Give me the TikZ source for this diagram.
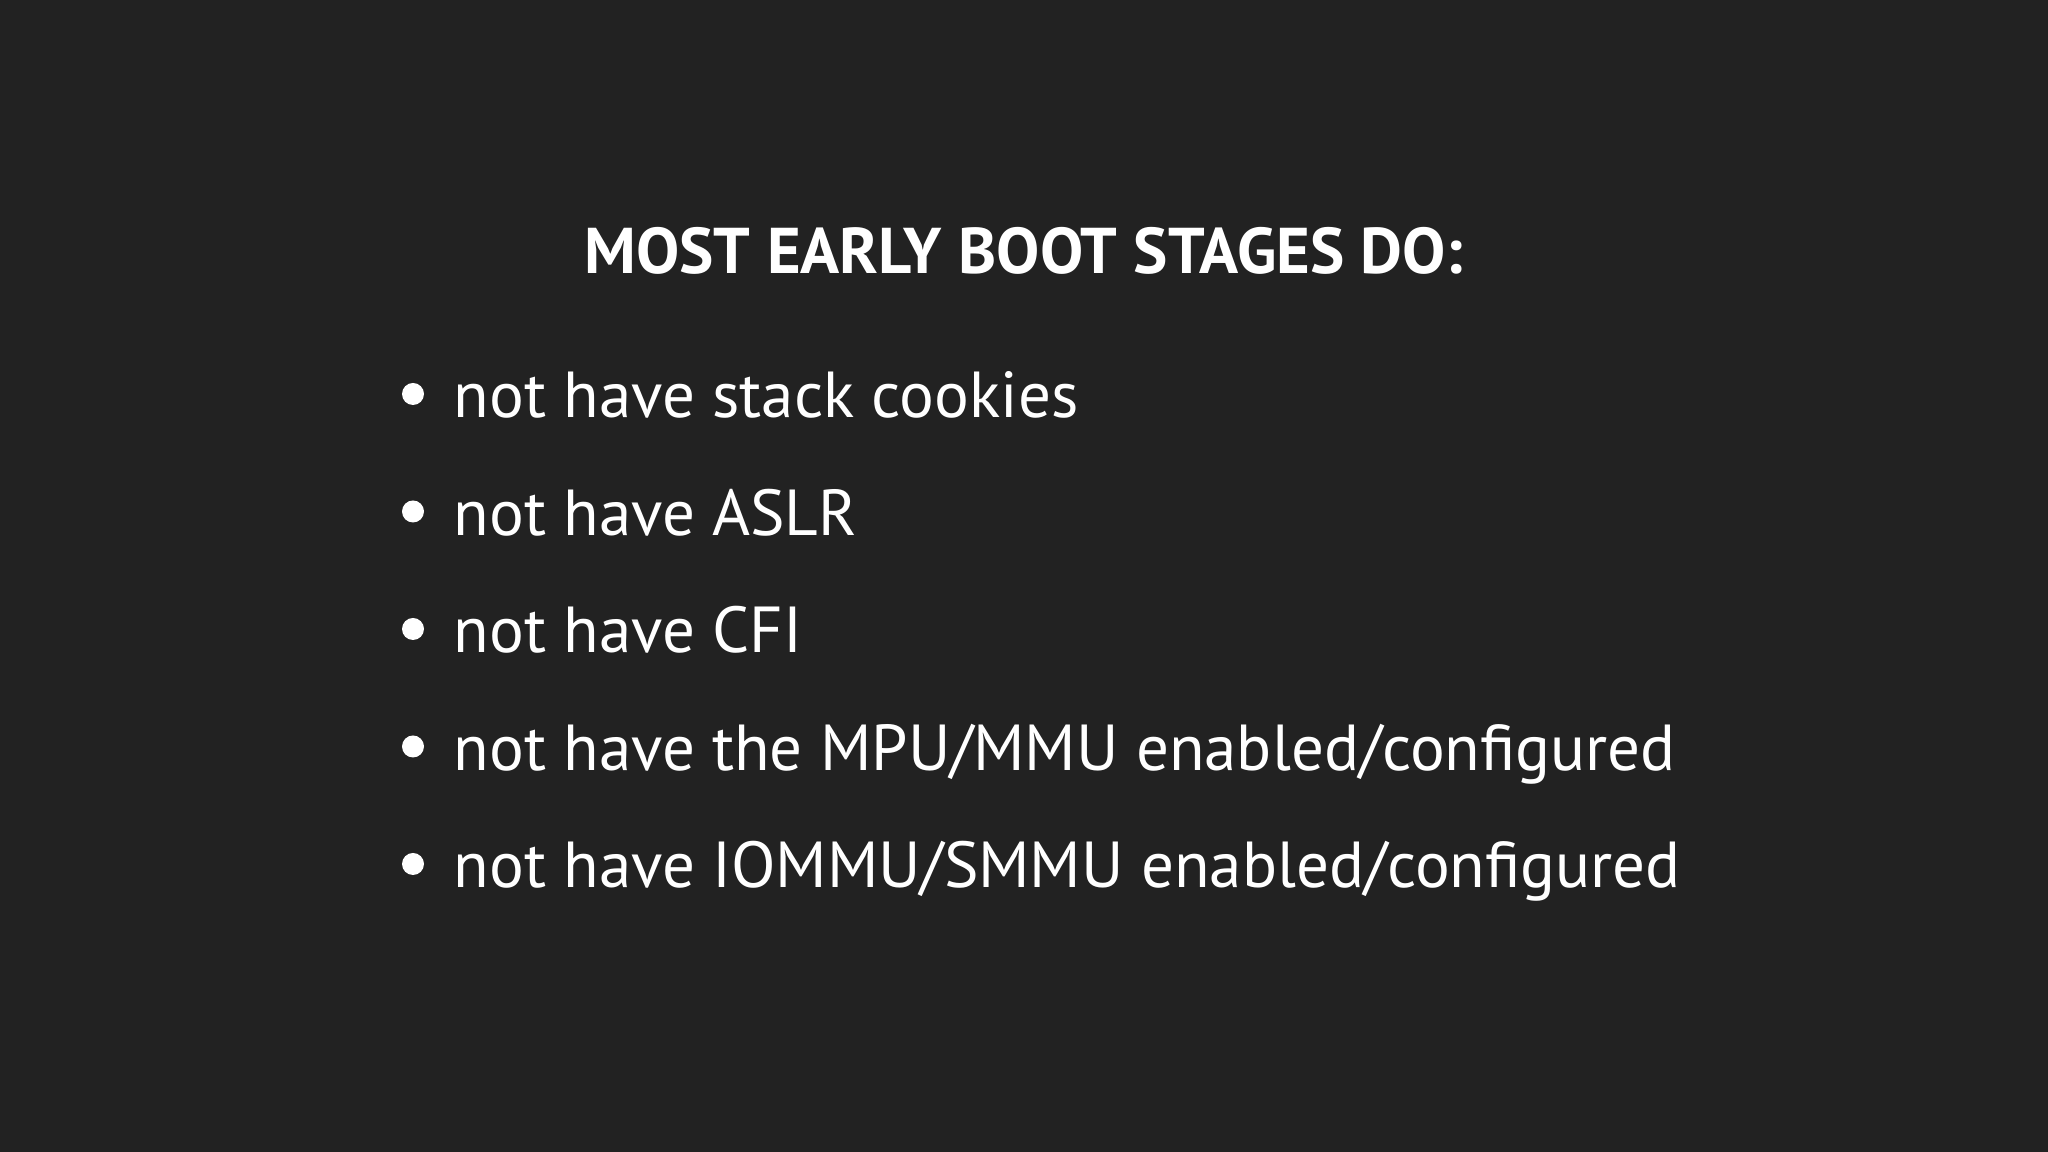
\documentclass[tikz,border=0pt]{standalone}
\usepackage{fontspec}
\setmainfont{PT Sans}
\definecolor{bg}{HTML}{222222}
\definecolor{fg}{HTML}{FFFFFF}
\begin{document}
\begin{tikzpicture}[x=1cm,y=1cm,
  itemtext/.style={anchor=base west,inner sep=0pt,text=fg,font=\fontsize{18.5}{22}\selectfont},
  dot/.style={circle,fill=fg,inner sep=0pt,minimum size=0.22cm}]
\fill[bg] (0,0) rectangle (20.48,11.52);
\useasboundingbox (0,0) rectangle (20.48,11.52);
\node[anchor=base,inner sep=0pt,text=fg,font=\bfseries\fontsize{18.4}{22}\selectfont] (title) at (10.24,8.78) {MOST EARLY BOOT STAGES DO:};
\foreach \i/\t in {1/{not have stack cookies},2/{not have ASLR},3/{not have CFI},4/{not have the MPU/MMU enabled/configured},5/{not have IOMMU/SMMU enabled/configured}}{
  \node[itemtext] (item\i) at (4.53,{11.52-4.18-1.175*(\i-1)}) {\t};
  \node[dot] (b\i) at (4.13,{11.52-3.94-1.175*(\i-1)}) {};
}
\end{tikzpicture}
\end{document}
